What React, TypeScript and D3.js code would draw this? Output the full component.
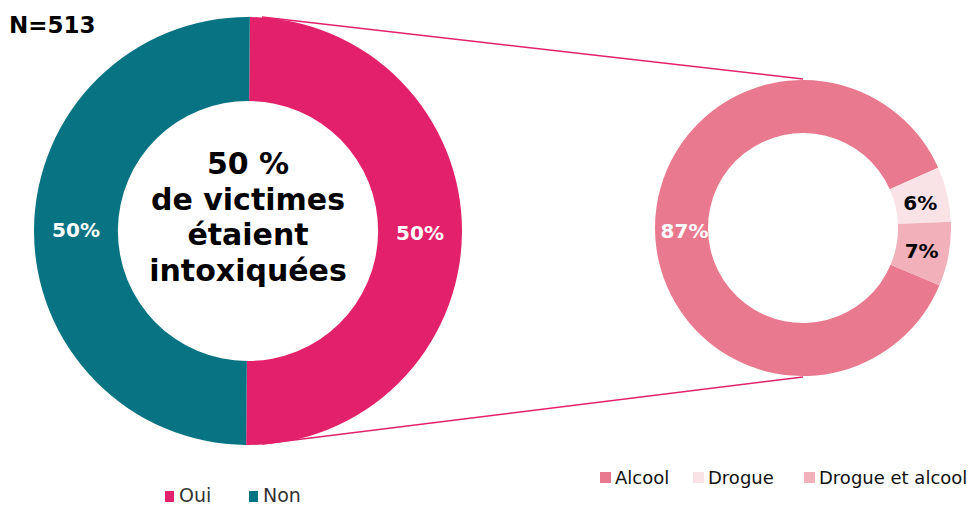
import React from "react";
import * as d3 from "d3";

const mainCategories = ["Oui", "Non"];
const mainValues = [50, 50];
const mainLabels = ["50%", "50%"];
const mainColors = ["#E3216A", "#087382"];

const subCategories = ["Alcool", "Drogue", "Drogue et alcool"];
const subValues = [87, 6, 7];
const subLabels = ["87%", "6%", "7%"];
const subColors = ["#E9798E", "#F9E3E6", "#F1B0BA"];
const subLabelColors = ["#ffffff", "#000000", "#000000"];

const centerLines = ["50 %", "de victimes", "étaient", "intoxiquées"];
const nLabel = "N=513";

const FONT = "Verdana, 'DejaVu Sans', sans-serif";

export default function App() {
  const W = 972, H = 507;
  const c1 = { x: 248, y: 231, r: 214, ir: 130 };
  const c2 = { x: 803, y: 228, r: 148, ir: 95 };

  const deg = Math.PI / 180;
  const pie1 = d3.pie<number>().sort(null).startAngle(0.5 * deg).endAngle(360.5 * deg)(mainValues);
  const arc1 = d3.arc<d3.PieArcDatum<number>>().innerRadius(c1.ir).outerRadius(c1.r);

  const pie2 = d3.pie<number>().sort(null).startAngle(112.8 * deg).endAngle(472.8 * deg)(subValues);
  const arc2 = d3.arc<d3.PieArcDatum<number>>().innerRadius(c2.ir).outerRadius(c2.r);
  const lab2 = d3.arc<d3.PieArcDatum<number>>().innerRadius(c2.ir - 2).outerRadius(c2.r - 2);

  return (
    <svg width={W} height={H} style={{ position: "absolute", left: 0, top: 0, background: "#fff" }} fontFamily={FONT}>
      <line x1={262} y1={17} x2={c2.x} y2={c2.y - c2.r - 1} stroke="#E3216A" strokeWidth={1.5} />
      <line x1={262} y1={444} x2={c2.x} y2={c2.y + c2.r + 1} stroke="#E3216A" strokeWidth={1.5} />
      <g transform={`translate(${c1.x},${c1.y})`}>
        {pie1.map((d, i) => (
          <path key={i} d={arc1(d) || ""} fill={mainColors[i]} />
        ))}
        {pie1.map((d, i) => {
          const [x, y] = arc1.centroid(d);
          return (
            <text key={"l" + i} x={x} y={y} dy="0.36em" textAnchor="middle" fill="#fff" fontWeight="bold" fontSize={20}>
              {mainLabels[i]}
            </text>
          );
        })}
        {centerLines.map((t, i) => (
          <text key={"c" + i} x={0} y={-68 + i * 35.7} dy="0.36em" textAnchor="middle" fill="#000" fontWeight="bold" fontSize={30}>
            {t}
          </text>
        ))}
      </g>
      <g transform={`translate(${c2.x},${c2.y})`}>
        {pie2.map((d, i) => (
          <path key={i} d={arc2(d) || ""} fill={subColors[i]} />
        ))}
        {pie2.map((d, i) => {
          const [x, y] = lab2.centroid(d);
          return (
            <text key={"l" + i} x={x + 1} y={y + 1} dy="0.4em" textAnchor="middle" fill={subLabelColors[i]} fontWeight="bold" fontSize={20}>
              {subLabels[i]}
            </text>
          );
        })}
      </g>
      <text x={9} y={33} fontWeight="bold" fontSize={23} fill="#000">{nLabel}</text>
      {mainCategories.map((c, i) => {
        const xs = [165, 249];
        return (
          <g key={c}>
            <rect x={xs[i]} y={491} width={9} height={11} fill={mainColors[i]} />
            <text x={xs[i] + 14} y={502} fontSize={19} fill="#333">{c}</text>
          </g>
        );
      })}
      {subCategories.map((c, i) => {
        const xs = [600, 693, 804];
        return (
          <g key={c}>
            <rect x={xs[i]} y={472} width={11} height={11} fill={subColors[i]} />
            <text x={xs[i] + 15} y={484} fontSize={18} fill="#111">{c}</text>
          </g>
        );
      })}
    </svg>
  );
}
